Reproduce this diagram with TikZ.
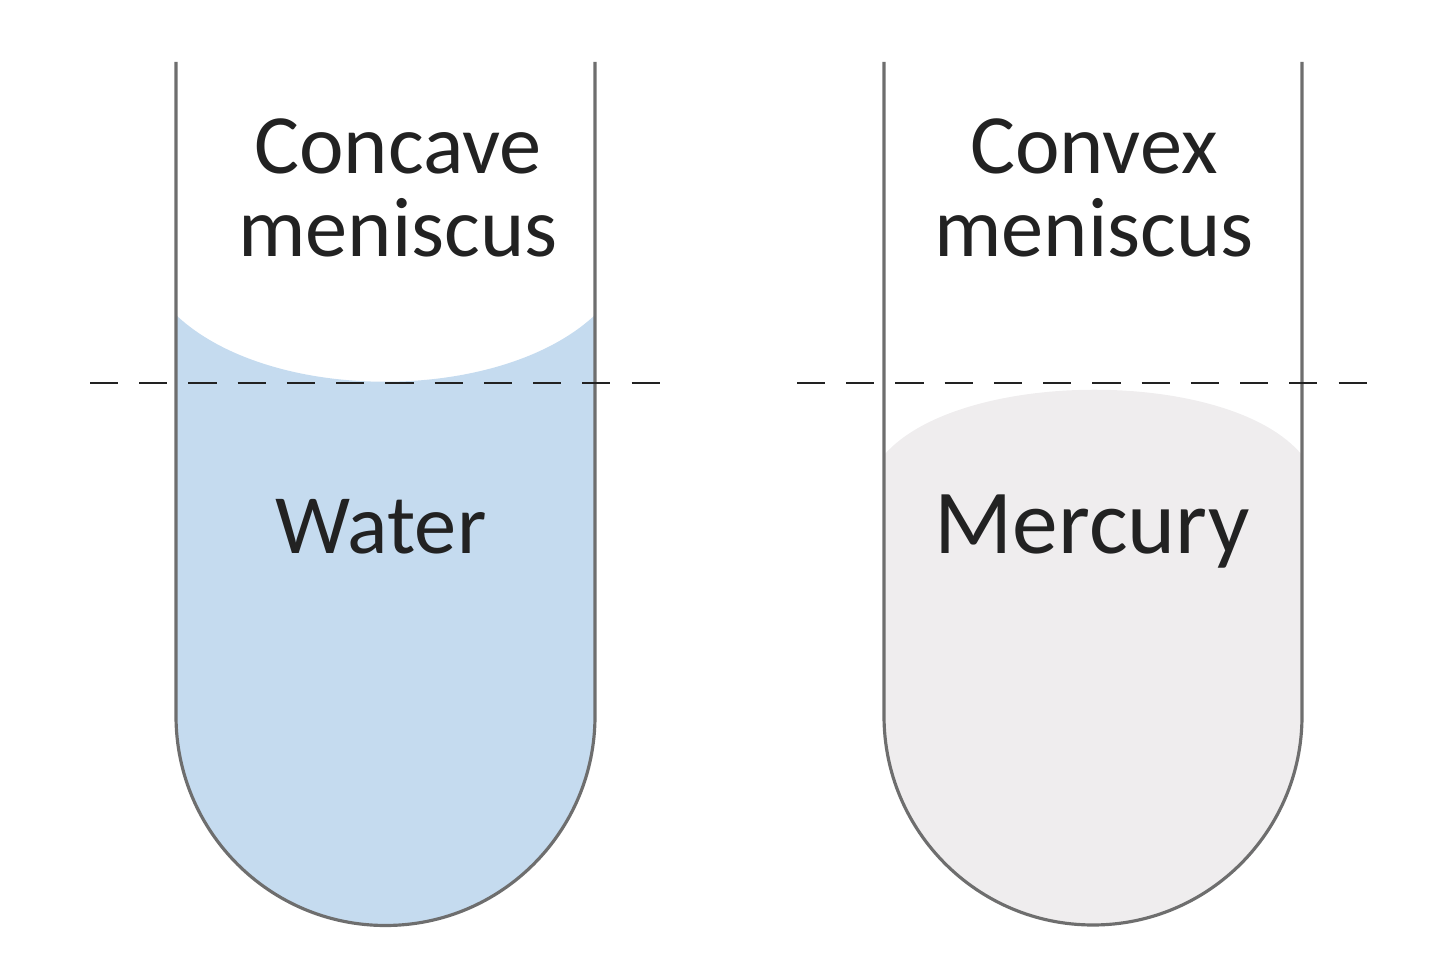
\documentclass[tikz,border=0pt]{standalone}
\usepackage{fontspec}
\setmainfont{Carlito}
\definecolor{water}{HTML}{C5DBEF}
\definecolor{mercury}{HTML}{EFEDEE}
\definecolor{glass}{HTML}{6E6E6E}
\definecolor{ink}{HTML}{222222}
\tikzset{
  tubewall/.style={draw=glass, line width=0.9pt},
  level/.style={draw=ink, line width=0.8pt, dash pattern=on 8pt off 6pt},
  label/.style={text=ink, align=center, font=\fontsize{24}{23.5}\selectfont}
}
\begin{document}
\begin{tikzpicture}[x=0.01cm,y=-0.01cm]
  \useasboundingbox (0,0) rectangle (1440,962);

  % Water (concave)
  \fill[water] (176,315) .. controls (270,404) and (500,404) .. (595,315)
    -- (595,716) arc[start angle=0, end angle=-180, x radius=209.5, y radius=-209.5] -- cycle;
  % Mercury (convex)
  \fill[mercury] (884,455) .. controls (960,368) and (1230,368) .. (1302,455)
    -- (1302,716) arc[start angle=0, end angle=-180, x radius=209, y radius=-209] -- cycle;

  % Tubes
  \draw[tubewall] (176,62) -- (176,716) arc[start angle=180, end angle=360, x radius=209.5, y radius=-209.5] -- (595,62);
  \draw[tubewall] (884,62) -- (884,716) arc[start angle=180, end angle=360, x radius=209, y radius=-209] -- (1302,62);

  % Reference levels
  \coordinate (la) at (90,383);
  \coordinate (lb) at (675,383);
  \coordinate (ra) at (797,383);
  \coordinate (rb) at (1382,383);
  \draw[level] (la) -- (lb);
  \draw[level] (ra) -- (rb);

  % Labels
  \node[label] (concave) at (398,188) {Concave\\meniscus};
  \node[label] (convex) at (1094,188) {Convex\\meniscus};
  \node[label] (water) at (381,527) {Water};
  \node[label, font=\fontsize{26}{26}\selectfont] (mercury) at (1092,532) {Mercury};
\end{tikzpicture}
\end{document}
